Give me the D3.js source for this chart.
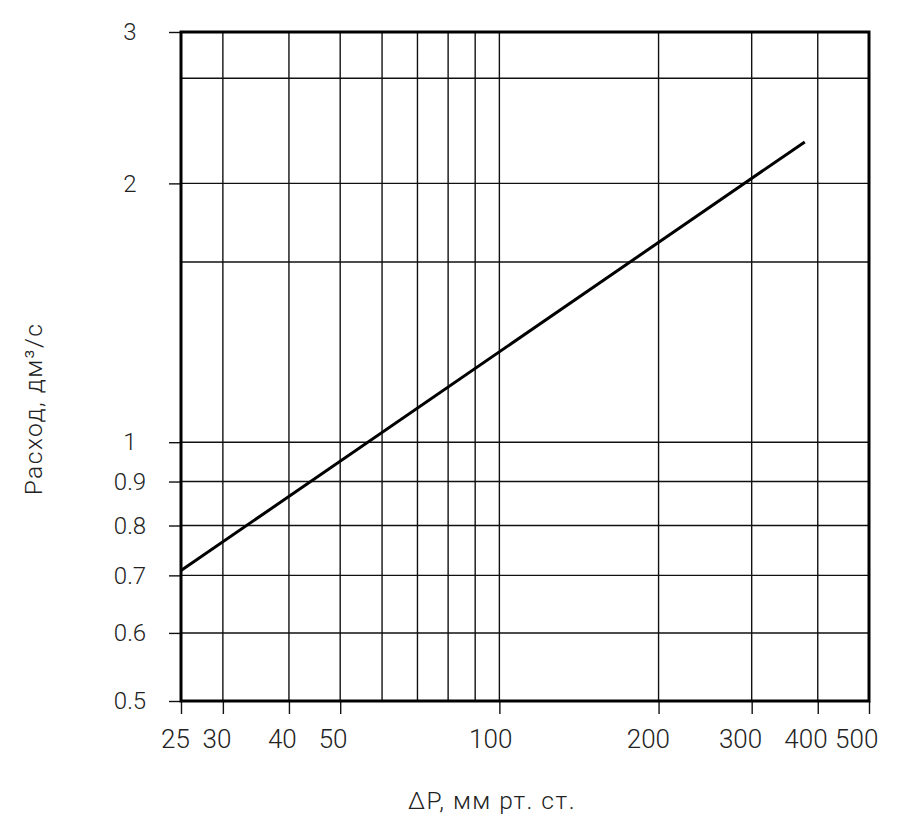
<!DOCTYPE html>
<html>
<head>
<meta charset="utf-8">
<script src="https://cdn.jsdelivr.net/npm/d3@7"></script>
<style>
  html, body { margin: 0; padding: 0; background: #fff; }
  svg text { font-family: Roboto, "Open Sans", sans-serif; font-weight: 300; fill: #222; }
</style>
</head>
<body>
<svg id="chart" width="915" height="831"></svg>
<script>
// ---- data ----
const xTickValues = [25, 30, 40, 50, 100, 200, 300, 400, 500];
const xTickLabels = ["25", "30", "40", "50", "100", "200", "300", "400", "500"];
const xGridValues = [30, 40, 50, 60, 70, 80, 90, 100, 200, 300, 400];
const yTickValues = [0.5, 0.6, 0.7, 0.8, 0.9, 1, 2, 3];
const yTickLabels = ["0.5", "0.6", "0.7", "0.8", "0.9", "1", "2", "3"];
const yGridValues = [0.6, 0.7, 0.8, 0.9, 1, 1.62, 2, 2.65];
const flowDP = [25, 378];          // ΔP, мм рт. ст.
const flowQ = [0.709, 2.235];      // Расход, дм³/с
const xTitle = "ΔP, мм рт. ст.";
const yTitle = "Расход, дм³/с";

// ---- layout ----
const svg = d3.select("#chart");
const x = d3.scaleLog().domain([25, 500]).range([181, 869]);
// tick labels in the original sit on a slightly tighter log scale than the ticks
const xLab = d3.scaleLog().domain([25, 500]).range([175.5, 856.7]);
const y = d3.scaleLog().domain([0.5, 3]).range([701, 32]);

// grid
const grid = svg.append("g");
grid.selectAll("line.v").data(xGridValues).join("line")
  .attr("x1", d => x(d)).attr("x2", d => x(d))
  .attr("y1", y(3)).attr("y2", y(0.5))
  .attr("stroke", "#111").attr("stroke-width", 1.4);
grid.selectAll("line.h").data(yGridValues).join("line")
  .attr("x1", x(25)).attr("x2", x(500))
  .attr("y1", d => y(d)).attr("y2", d => y(d))
  .attr("stroke", "#111").attr("stroke-width", 1.4);

// axes (tick marks)
const xAxis = svg.append("g").attr("transform", `translate(0,${y(0.5)})`)
  .call(d3.axisBottom(x).tickValues(xTickValues).tickFormat("").tickSize(13));
const yAxis = svg.append("g").attr("transform", `translate(${x(25)},0)`)
  .call(d3.axisLeft(y).tickValues(yTickValues).tickFormat((d, i) => yTickLabels[i]).tickSize(12));
[xAxis, yAxis].forEach(a => {
  a.select(".domain").remove();
  a.selectAll(".tick line").attr("stroke", "#111").attr("stroke-width", 1.4);
});
yAxis.selectAll(".tick text")
  .style("font-size", "24px").attr("fill", "#222")
  .attr("text-anchor", "middle").attr("x", 130 - x(25));

// x tick labels
svg.append("g").selectAll("text").data(xTickValues).join("text")
  .attr("x", d => xLab(d)).attr("y", 748)
  .attr("text-anchor", "middle")
  .style("font-size", "26px")
  .text((d, i) => xTickLabels[i]);

// frame
svg.append("rect")
  .attr("x", x(25)).attr("y", y(3))
  .attr("width", x(500) - x(25)).attr("height", y(0.5) - y(3))
  .attr("fill", "none").attr("stroke", "#000").attr("stroke-width", 3);

// data line
const line = d3.line().x(d => x(d[0])).y(d => y(d[1]));
svg.append("path")
  .datum(flowDP.map((d, i) => [d, flowQ[i]]))
  .attr("d", line)
  .attr("fill", "none").attr("stroke", "#000").attr("stroke-width", 3);

// titles
svg.append("text")
  .attr("x", 492).attr("y", 809)
  .attr("text-anchor", "middle")
  .attr("letter-spacing", "1.5px")
  .style("font-size", "24.5px")
  .text(xTitle);
svg.append("text")
  .attr("transform", "translate(42,409) rotate(-90)")
  .attr("text-anchor", "middle")
  .attr("letter-spacing", "1.5px")
  .style("font-size", "24.5px")
  .text(yTitle);
</script>
</body>
</html>
